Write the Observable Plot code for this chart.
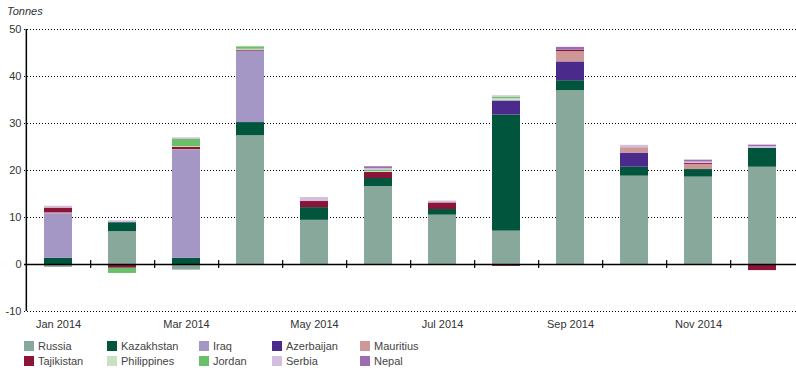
<!DOCTYPE html>
<html>
<head>
<meta charset="utf-8">
<script src="https://cdn.jsdelivr.net/npm/d3@7"></script>
<script src="https://cdn.jsdelivr.net/npm/@observablehq/plot@0.6"></script>
<style>
  html, body { margin: 0; padding: 0; background: #fff; }
  #wrap { position: relative; width: 796px; height: 380px; font-family: "Liberation Sans", Arial, sans-serif; color: #333; }
  #unit { position: absolute; left: 7px; top: 5px; font-size: 11px; font-style: italic; color: #333; }
  #legend { position: absolute; left: 24px; top: 341px; display: grid; grid-template-columns: 83px 92px 73px 88px auto; row-gap: 5px; font-size: 11px; color: #444; }
  .item { display: flex; align-items: center; height: 10px; }
  .sw { width: 10px; height: 10px; margin-right: 4px; flex: none; }
</style>
</head>
<body>
<div id="wrap">
  <div id="chart"></div>
  <div id="unit">Tonnes</div>
  <div id="legend"></div>
</div>
<script>
const months = ["Jan 2014","Feb 2014","Mar 2014","Apr 2014","May 2014","Jun 2014","Jul 2014","Aug 2014","Sep 2014","Oct 2014","Nov 2014","Dec 2014"];
const countries = ["Russia","Kazakhstan","Iraq","Azerbaijan","Mauritius","Tajikistan","Philippines","Jordan","Serbia","Nepal"];
const colors = ["#87a89a","#00553c","#a497c6","#4a2b8c","#cf9898","#8b1538","#c6e2c0","#6abf69","#d3bfdd","#9c6db0"];

const russia      = [-0.6, 7.0, -1.2, 27.4, 9.4, 16.6, 10.5, 7.1, 37.0, 18.8, 18.6, 20.7];
const kazakhstan  = [1.3, 1.9, 1.3, 2.8, 2.7, 1.7, 1.2, 24.7, 2.1, 1.9, 1.6, 4.0];
const iraq        = [9.5, 0, 23.0, 15.2, 0, 0, 0, 0, 0, 0, 0, 0];
const azerbaijan  = [0, 0, 0, 0, 0, 0, 0, 3.0, 4.0, 3.0, 0, 0];
const mauritius   = [0.2, 0, 0.15, 0, 0, 0, 0, 0, 2.2, 1.15, 1.1, 0];
const tajikistan  = [1.0, -0.8, 0.5, 0.2, 1.3, 1.3, 1.4, -0.4, 0.3, 0, 0.2, -1.3];
const philippines = [0, 0, 0.15, 0.2, 0, 0.2, 0, 0.5, 0, 0, 0, 0];
const jordan      = [0, -1.1, 1.5, 0.5, 0, 0.3, 0, 0.3, 0, 0, 0, 0];
const serbia      = [0.4, 0.4, 0.35, 0, 0.85, 0.3, 0.4, 0.3, 0, 0.5, 0.3, 0.4];
const nepal       = [0, 0, 0, 0, 0, 0.4, 0, 0, 0.6, 0, 0.4, 0.3];

const yTicks = [-10, 0, 10, 20, 30, 40, 50];
const labelledMonths = ["Jan 2014","Mar 2014","May 2014","Jul 2014","Sep 2014","Nov 2014"];

const series = [russia, kazakhstan, iraq, azerbaijan, mauritius, tajikistan, philippines, jordan, serbia, nepal];
const data = [];
countries.forEach((c, ci) => {
  series[ci].forEach((v, mi) => { if (v !== 0) data.push({month: months[mi], country: c, value: v}); });
});

const W = 796, H = 336, ML = 24, MR = 0;
const step = (W - ML - MR) / months.length;

const chart = Plot.plot({
  width: W, height: H,
  marginLeft: ML, marginRight: MR, marginTop: 29, marginBottom: 25,
  style: {fontFamily: "'Liberation Sans', Arial, sans-serif", fontSize: "11px", color: "#333", background: "#fff"},
  x: {type: "band", domain: months, paddingInner: 0.565, paddingOuter: 0.2825, align: 0.5},
  y: {domain: [-10, 50]},
  color: {domain: countries, range: colors},
  marks: [
    Plot.ruleY(yTicks.filter(d => d !== 0), {stroke: "#000", strokeWidth: 1.1, strokeDasharray: "1,2"}),
    Plot.barY(data, {x: "month", y: "value", fill: "country", order: countries}),
    Plot.ruleY([0], {stroke: "#000", strokeWidth: 1.5}),
    Plot.ruleX(months.slice(0, -1), {x: d => d, y1: -0.85, y2: 0.85, dx: step / 2, stroke: "#000", strokeWidth: 1.2}),
    Plot.ruleX([months[0]], {x: d => d, y1: -10, y2: 50, dx: -step / 2, stroke: "#000", strokeWidth: 1.5}),
    Plot.axisY({ticks: yTicks, tickSize: 0, tickPadding: 3, label: null, fontSize: 11, tickFormat: d => String(d)}),
    Plot.axisX({tickSize: 0, tickPadding: 9, label: null, tickFormat: d => labelledMonths.includes(d) ? d : "", fontSize: 11})
  ]
});
document.getElementById("chart").appendChild(chart);

const legend = document.getElementById("legend");
countries.forEach((c, i) => {
  const item = document.createElement("div");
  item.className = "item";
  const sw = document.createElement("span");
  sw.className = "sw";
  sw.style.background = colors[i];
  const t = document.createElement("span");
  t.textContent = c;
  item.appendChild(sw); item.appendChild(t);
  legend.appendChild(item);
});
</script>
</body>
</html>
